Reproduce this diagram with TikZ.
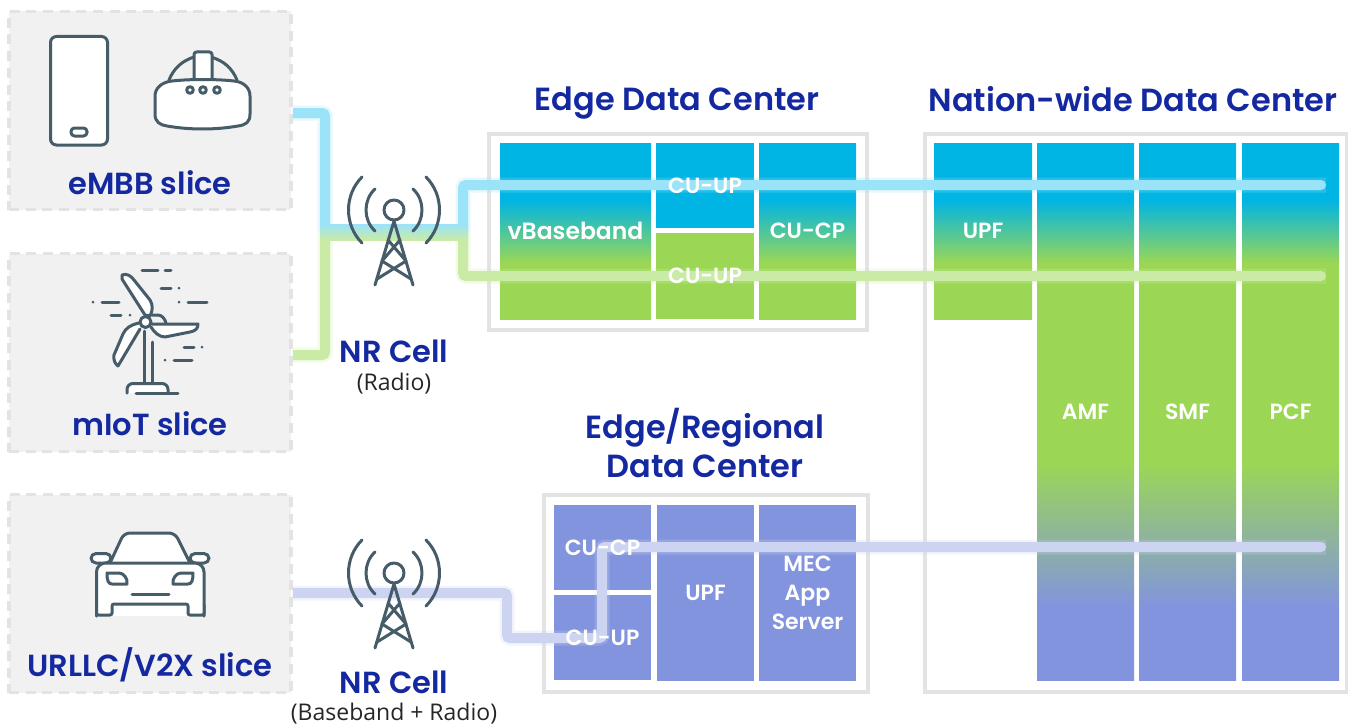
\documentclass[tikz,border=0pt]{standalone}
\usepackage{fontspec}
\usetikzlibrary{arrows.meta}
\setmainfont{Open Sans}
\newfontfamily\headfont{Poppins SemiBold}
\newfontfamily\cellfont{Poppins SemiBold}

\definecolor{skyblue}{HTML}{00B4E4}
\definecolor{leafgreen}{HTML}{9BD755}
\definecolor{periwinkle}{HTML}{8294DE}
\definecolor{linesky}{HTML}{9BE3F9}
\definecolor{lineleaf}{HTML}{CAEBA5}
\definecolor{lineperi}{HTML}{CDD4F1}
\definecolor{iconslate}{HTML}{465C68}
\definecolor{headblue}{HTML}{1428A0}

\pgfdeclareverticalshading{skyleaf}{100bp}{color(0bp)=(leafgreen); color(40.9bp)=(leafgreen); color(58.8bp)=(skyblue); color(100bp)=(skyblue)}
\pgfdeclareverticalshading{skyleafperi}{100bp}{color(0bp)=(periwinkle); color(31.8bp)=(periwinkle); color(45.3bp)=(leafgreen); color(63.8bp)=(leafgreen); color(69.7bp)=(skyblue); color(100bp)=(skyblue)}

\tikzset{
    slice/.style = {
        draw=black!11,
        fill=black!5.5,
        line width=3.5pt,
        dash pattern=on 10pt off 6.7pt,
        minimum width=282pt,
        minimum height=198pt
    },
    frame/.style = {
        draw=black!11,
        line width=4pt
    },
    cell/.style 2 args = {
        inner sep=0pt,
        minimum width=#1pt,
        minimum height=#2pt
    },
    celltext/.style = {
        font=\cellfont\fontsize{22}{29}\selectfont,
        text=white,
        align=center
    },
    heading/.style = {
        font=\headfont\fontsize{32}{39}\selectfont,
        text=headblue,
        align=center
    },
    slicehead/.style = {
        font=\headfont\fontsize{30.5}{39}\selectfont,
        text=headblue
    },
    subtext/.style = {
        font=\fontsize{23}{27}\selectfont,
        text=black!85
    },
    link/.style = {
        draw=#1,
        line width=10pt,
        rounded corners=3pt,
        -{Round Cap},
        preaction={draw=#1, -, line width=15pt, opacity=0.25}
    },
    icon/.style = {
        draw=iconslate,
        line width=3pt,
        line cap=round,
        line join=round
    },
    tower/.pic = {
        \draw[icon] (0,0) circle (10);
        \draw[icon] (-19,-21) .. controls (-31,-10) and (-31,10) .. (-19,21);
        \draw[icon] (19,-21) .. controls (31,-10) and (31,10) .. (19,21);
        \draw[icon] (-32,-33) .. controls (-50,-15) and (-50,15) .. (-32,33);
        \draw[icon] (32,-33) .. controls (50,-15) and (50,15) .. (32,33);
        \draw[icon] (-19,75) -- (0,11) -- (19,75);
        \draw[icon] (-6,30) -- (12,51) (6,30) -- (-12,51);
        \draw[icon] (-12,51) -- (17,69) (12,51) -- (-17,69);
    }
}

\begin{document}
\begin{tikzpicture}[x=1pt, y=-1pt]
    \useasboundingbox (0,0) rectangle (1348,725);

    % Slices
    \node[slice] (embb) at (150,110.5) {};
    \node[slice] (miot) at (150,352.5) {};
    \node[slice] (urllc) at (150,593.5) {};

    % Data center frames
    \node[frame, minimum width=378pt, minimum height=196pt] (edgeframe) at (678,232) {};
    \node[frame, minimum width=324pt, minimum height=197pt] (regionframe) at (706,593.5) {};
    \node[frame, minimum width=422pt, minimum height=558pt] (nationframe) at (1136,413) {};

    % Cells
    \node[cell={151}{176}, shading=skyleaf] (vbb) at (575.5,231) {};
    \node[cell={98}{85}, fill=skyblue] (cuupa) at (705,185.5) {};
    \node[cell={98}{86}, fill=leafgreen] (cuupb) at (705,276) {};
    \node[cell={97}{176}, shading=skyleaf] (cucpa) at (807.5,231) {};
    \node[cell={98}{176}, shading=skyleaf] (upfa) at (983,231) {};
    \node[cell={97}{537}, shading=skyleafperi] (amf) at (1085.5,411.5) {};
    \node[cell={97}{537}, shading=skyleafperi] (smf) at (1187.5,411.5) {};
    \node[cell={97}{537}, shading=skyleafperi] (pcf) at (1290.5,411.5) {};
    \node[cell={97}{85}, fill=periwinkle] (cucpb) at (602.5,547.5) {};
    \node[cell={97}{85}, fill=periwinkle] (cuupc) at (602.5,637.5) {};
    \node[cell={97}{176}, fill=periwinkle] (upfb) at (705.5,593) {};
    \node[cell={97}{176}, fill=periwinkle] (mec) at (807.5,593) {};

    % Links
    \coordinate (embbout) at (embb.east |- 0,113);
    \coordinate (miotout) at (miot.east |- 0,355);
    \coordinate (urllcout) at (urllc.east |- 0,593);
    \coordinate (joinwest) at (325,232);
    \coordinate (joineast) at (463,232);
    \coordinate (skyend) at (1326,185);
    \coordinate (leafend) at (1326,276);
    \coordinate (periend) at (1326,547);
    \draw[link=linesky] (embbout) -- (325,113) -- (joinwest);
    \draw[link=linesky] (joineast) -- (463,185) -- (skyend);
    \draw[link=lineleaf] (miotout) -- (325,355) -- (joinwest);
    \draw[link=lineleaf] (joineast) -- (463,276) -- (leafend);
    \draw[link=lineperi] (urllcout) -- (507,593) -- (507,638) -- (602,638) -- (602,547) -- (periend);
    \node[cell={148}{16}, top color=linesky, bottom color=lineleaf] (trunk) at (394,232) {};

    % Cell labels
    \node[celltext, font=\cellfont\fontsize{23.5}{29}\selectfont] (vbbtext) at (vbb) {vBaseband};
    \node[celltext] (cuupatext) at (cuupa) {CU-UP};
    \node[celltext] (cuupbtext) at (cuupb) {CU-UP};
    \node[celltext] (cucpatext) at (cucpa) {CU-CP};
    \node[celltext] (upfatext) at (upfa) {UPF};
    \node[celltext] (amftext) at (amf) {AMF};
    \node[celltext] (smftext) at (smf) {SMF};
    \node[celltext] (pcftext) at (pcf) {PCF};
    \node[celltext] (cucpbtext) at (cucpb) {CU-CP};
    \node[celltext] (cuupctext) at (cuupc) {CU-UP};
    \node[celltext] (upfbtext) at (upfb) {UPF};
    \node[celltext] (mectext) at (mec) {MEC\\App\\Server};

    % Headings
    \node[heading] (edgehead) at (677,103) {Edge Data Center};
    \node[heading] (nationhead) at (1133,99.5) {Nation-wide Data Center};
    \node[heading] (regionhead) at (705,443) {Edge/Regional\\Data Center};
    \node[slicehead] (embbhead) at (150,182.5) {eMBB slice};
    \node[slicehead] (miothead) at (150,423.5) {mIoT slice};
    \node[slicehead] (urllchead) at (150,665) {URLLC/V2X slice};
    \node[slicehead] (cellhead) at (394,351) {NR Cell};
    \node[slicehead] (cellheadb) at (394,682) {NR Cell};
    \node[subtext] (radio) at (394,384) {(Radio)};
    \node[subtext] (bbradio) at (394,714) {(Baseband + Radio)};

    % Towers
    \pic at (394,210) {tower};
    \pic at (394,573) {tower};

    % Phone and headset
    \draw[icon, fill=white, rounded corners=6pt] (50.5,36.5) rectangle (107.5,145);
    \draw[icon, rounded corners=3.5pt] (71,128) rectangle (87,136);
    \draw[icon] (169,80) .. controls (174,68) and (182,61) .. (194,57);
    \draw[icon] (237,80) .. controls (232,68) and (224,61) .. (211,57);
    \draw[icon, fill=white, rounded corners=2.5pt] (194,78) -- (194,52) -- (212,52) -- (212,78);
    \draw[icon, fill=white] (172,81) .. controls (190,79) and (216,79) .. (234,81)
        .. controls (244,82) and (250,88) .. (250,96) -- (250,114)
        .. controls (250,122) and (246,125) .. (238,126)
        .. controls (215,130) and (190,130) .. (167,126)
        .. controls (160,125) and (155,122) .. (155,114) -- (155,96)
        .. controls (155,88) and (162,82) .. (172,81) -- cycle;
    \foreach \dotx in {190,203,217} {
        \draw[icon] (\dotx,90) circle (3.3);
    }

    % Wind turbine
    \draw[icon] (144,331) -- (144,385);
    \draw[icon] (152.5,342) -- (152.5,385);
    \draw[icon, fill=white, rounded corners=6pt] (127,393) -- (127,383.5) -- (168,383.5) -- (168,392);
    \draw[icon] (136,393) -- (178,393);
    \draw[icon, fill=white] (122,275) .. controls (127,273) and (131,276) .. (134,280)
        -- (150,300) .. controls (153,305) and (153,310) .. (150,316) -- (145,315) -- (122,279) -- cycle;
    \draw[icon, fill=white] (152,324) -- (198,324) .. controls (198,329) and (195,331) .. (190,332)
        -- (165,337) .. controls (159,337) and (154,332) .. (151,327);
    \draw[icon, fill=white] (139,323) .. controls (130,325) and (126,328) .. (123,334)
        -- (114,355) .. controls (113,359) and (115,364) .. (118,366) -- (140,329);
    \draw[icon] (152,315) -- (158,315) .. controls (162,315) and (165,319) .. (166,323);
    \draw[icon, fill=white] (145.5,322) circle (5.5);
    \foreach \ax/\ay/\bx in {142/270/158, 165/270/171, 161/288/171, 102/302/119, 188/302/207, 111/315/121, 184/347/194, 174/360/192} {
        \draw[icon] (\ax,\ay) -- (\bx,\ay);
    }
    \foreach \dotx/\doty in {179/288, 93/302, 179/302, 130/315, 202/347, 165/360} {
        \fill[iconslate] (\dotx,\doty) circle (1.5);
    }

    % Car
    \draw[icon, fill=white, rounded corners=5pt] (91,553.5) rectangle (111,563);
    \draw[icon, fill=white, rounded corners=5pt] (190,553.5) rectangle (209,563);
    \draw[icon, fill=white, rounded corners=6pt] (110,563) -- (124,533) -- (175,533) -- (190,563);
    \draw[icon, fill=white, rounded corners=9pt] (96.5,616) -- (96.5,563) -- (204,563) -- (204,616);
    \draw[icon, fill=white, rounded corners=2pt] (96.5,605) -- (96.5,615) -- (112,615) -- (112,604)
        -- (188,604) -- (188,615) -- (204,615) -- (204,605);
    \draw[icon] (107,573) -- (119,573) .. controls (124,573) and (128,579) .. (127,584)
        -- (112,584) .. controls (108,584) and (107,580) .. (107,573) -- cycle;
    \draw[icon] (193,573) -- (181,573) .. controls (176,573) and (172,579) .. (173,584)
        -- (188,584) .. controls (192,584) and (193,580) .. (193,573) -- cycle;
    \draw[icon] (132,594) -- (169,594);
\end{tikzpicture}
\end{document}
